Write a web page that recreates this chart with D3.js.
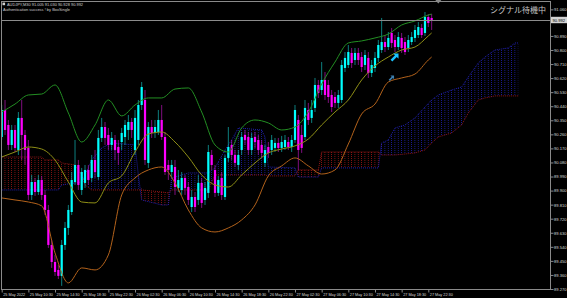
<!DOCTYPE html>
<html>
<head>
<meta charset="utf-8">
<script src="https://cdn.jsdelivr.net/npm/d3@7/dist/d3.min.js"></script>
<style>
  html, body { margin: 0; padding: 0; background: #000; }
  svg { display: block; }
</style>
</head>
<body>
<svg id="chart" width="567" height="298"></svg>
<script>
const symbol = "AUDJPY,M30";
const statusText = "Authentication success ! by BoxSingle";
const signalText = "シグナル待機中";

// OHLC, one entry per 30 minute bar
const barOpen = [
  90.243, 90.416, 90.320, 90.192, 90.288, 90.160, 90.365, 90.256, 90.173, 89.872,
  89.955, 89.891, 89.968, 89.872, 89.776, 89.552, 89.443, 89.392, 89.354, 89.552,
  89.661, 89.763, 89.955, 90.064, 89.904, 89.949, 90.032, 89.981, 90.096, 89.987,
  90.237, 90.307, 90.256, 90.192, 90.224, 90.179, 90.211, 90.243, 90.288, 90.339,
  90.160, 90.224, 90.448, 90.480, 90.077, 90.307, 90.269, 90.275, 90.352, 90.243,
  90.064, 90.019, 90.051, 89.917, 89.904, 89.981, 89.923, 89.795, 89.859, 89.840,
  89.949, 89.840, 89.885, 90.128, 90.032, 89.885, 89.981, 89.859, 90.109, 90.192,
  90.128, 90.064, 90.160, 90.256, 90.243, 90.160, 90.243, 90.224, 90.192, 90.077,
  90.179, 90.160, 90.173, 90.205, 90.173, 90.179, 90.211, 90.179, 90.224, 90.352,
  90.256, 90.243, 90.416, 90.365, 90.429, 90.576, 90.544, 90.608, 90.576, 90.512,
  90.499, 90.461, 90.480, 90.685, 90.704, 90.781, 90.736, 90.781, 90.755, 90.704,
  90.749, 90.653, 90.685, 90.749, 90.800, 90.851, 90.819, 90.909, 90.864, 90.819,
  90.877, 90.851, 90.813, 90.851, 90.877, 90.896, 90.941, 90.909, 91.011, 91.005
];
const barHigh = [
  90.448, 90.480, 90.352, 90.320, 90.320, 90.403, 90.480, 90.288, 90.224, 90.000,
  89.981, 90.000, 89.994, 89.904, 89.808, 89.584, 89.488, 89.424, 89.584, 89.699,
  89.808, 90.019, 90.224, 90.096, 90.045, 90.064, 90.064, 90.128, 90.160, 90.288,
  90.365, 90.339, 90.301, 90.275, 90.256, 90.224, 90.301, 90.352, 90.384, 90.365,
  90.416, 90.480, 90.595, 90.544, 90.339, 90.352, 90.352, 90.416, 90.448, 90.275,
  90.096, 90.096, 90.096, 90.032, 90.019, 90.000, 89.955, 89.904, 89.891, 90.000,
  89.981, 89.955, 90.192, 90.160, 90.064, 89.994, 90.019, 90.128, 90.307, 90.224,
  90.160, 90.160, 90.275, 90.288, 90.275, 90.269, 90.275, 90.256, 90.224, 90.192,
  90.211, 90.256, 90.237, 90.237, 90.250, 90.256, 90.243, 90.256, 90.448, 90.384,
  90.320, 90.480, 90.461, 90.480, 90.621, 90.608, 90.723, 90.659, 90.608, 90.544,
  90.531, 90.544, 90.736, 90.787, 90.832, 90.813, 90.813, 90.813, 90.787, 90.800,
  90.787, 90.736, 90.787, 90.864, 91.005, 90.896, 90.915, 90.941, 90.896, 90.915,
  90.909, 90.883, 90.896, 90.915, 90.960, 90.979, 90.966, 91.043, 91.030, 91.030
];
const barLow = [
  90.224, 90.256, 90.160, 90.160, 90.147, 90.128, 90.096, 90.064, 89.840, 89.840,
  89.866, 89.872, 89.840, 89.744, 89.533, 89.405, 89.354, 89.334, 89.290, 89.520,
  89.616, 89.744, 89.936, 89.904, 89.872, 89.917, 89.936, 89.955, 89.981, 89.968,
  90.211, 90.192, 90.160, 90.160, 90.096, 90.064, 90.160, 90.192, 90.224, 90.237,
  90.128, 90.192, 90.416, 90.064, 90.045, 90.237, 90.237, 90.256, 90.224, 90.000,
  89.968, 89.981, 89.872, 89.891, 89.872, 89.872, 89.808, 89.763, 89.763, 89.808,
  89.789, 89.808, 89.853, 90.032, 89.859, 89.866, 89.840, 89.840, 90.083, 90.096,
  90.051, 90.032, 90.128, 90.192, 90.128, 90.128, 90.173, 90.128, 90.109, 90.051,
  90.109, 90.128, 90.147, 90.147, 90.147, 90.160, 90.160, 90.147, 90.205, 90.032,
  90.141, 90.224, 90.320, 90.333, 90.403, 90.493, 90.512, 90.480, 90.461, 90.403,
  90.429, 90.429, 90.461, 90.659, 90.685, 90.685, 90.704, 90.704, 90.659, 90.672,
  90.621, 90.627, 90.659, 90.723, 90.781, 90.787, 90.800, 90.813, 90.787, 90.800,
  90.781, 90.768, 90.787, 90.832, 90.851, 90.877, 90.877, 90.890, 90.947, 90.928
];
const barClose = [
  90.416, 90.288, 90.192, 90.288, 90.173, 90.365, 90.256, 90.160, 89.872, 89.955,
  89.891, 89.968, 89.872, 89.776, 89.552, 89.443, 89.379, 89.354, 89.552, 89.661,
  89.776, 89.968, 90.064, 89.936, 90.019, 90.032, 89.968, 90.096, 90.019, 90.237,
  90.307, 90.237, 90.192, 90.237, 90.160, 90.141, 90.269, 90.320, 90.339, 90.288,
  90.365, 90.448, 90.563, 90.096, 90.307, 90.269, 90.307, 90.352, 90.243, 90.019,
  90.032, 90.064, 89.923, 89.968, 89.981, 89.917, 89.840, 89.859, 89.795, 89.949,
  89.821, 89.917, 90.147, 90.064, 89.885, 89.968, 89.872, 90.109, 90.179, 90.128,
  90.077, 90.128, 90.243, 90.224, 90.160, 90.237, 90.211, 90.160, 90.141, 90.160,
  90.141, 90.224, 90.205, 90.173, 90.211, 90.224, 90.179, 90.224, 90.416, 90.160,
  90.173, 90.429, 90.352, 90.416, 90.576, 90.525, 90.608, 90.512, 90.499, 90.435,
  90.461, 90.512, 90.704, 90.749, 90.787, 90.717, 90.781, 90.736, 90.691, 90.768,
  90.653, 90.704, 90.749, 90.832, 90.851, 90.819, 90.877, 90.845, 90.819, 90.883,
  90.813, 90.787, 90.864, 90.883, 90.928, 90.947, 90.896, 91.011, 90.973, 90.992
];

// band lines read every 4 bars
const bandBars = [0, 4, 8, 12, 16, 20, 24, 28, 32, 36, 40, 44, 48, 52, 56, 60, 64,
  68, 72, 76, 80, 84, 88, 92, 96, 100, 104, 108, 112, 116, 120, 124, 128, 129];
const upperBand = [90.403, 90.454, 90.512, 90.518, 90.576, 90.397, 90.211, 90.320, 90.480,
  90.378, 90.448, 90.493, 90.493, 90.550, 90.557, 90.403, 90.192, 90.147, 90.301, 90.352,
  90.333, 90.288, 90.307, 90.403, 90.582, 90.723, 90.845, 90.858, 90.877, 90.902, 90.960,
  90.986, 91.024, 91.030];
const middleBand = [90.115, 90.147, 90.179, 90.166, 90.096, 89.955, 89.827, 89.821, 89.949,
  89.994, 90.147, 90.262, 90.275, 90.211, 90.115, 90.000, 89.936, 89.923, 90.000, 90.077,
  90.141, 90.166, 90.186, 90.230, 90.320, 90.403, 90.480, 90.608, 90.698, 90.755, 90.800,
  90.819, 90.890, 90.909];
const lowerBand = [89.853, 89.840, 89.827, 89.802, 89.501, 89.309, 89.405, 89.392, 89.488,
  89.872, 89.981, 90.032, 90.051, 89.949, 89.776, 89.661, 89.635, 89.661, 89.712, 89.808,
  89.994, 90.058, 90.109, 90.058, 90.006, 90.032, 90.198, 90.390, 90.454, 90.595, 90.621,
  90.646, 90.736, 90.755];

// ichimoku cloud, shifted 26 bars ahead
const cloudBars = [0, 12, 13, 17, 18, 22, 24, 25, 27, 30, 33, 40, 41, 42, 48, 50, 51, 56,
  62, 64, 67, 69, 71, 78, 79, 80, 88, 89, 95, 96, 113, 114, 116, 118, 121, 124, 127, 129,
  131, 135, 138, 140, 143, 145, 148, 152, 154, 155];
const spanA = [89.904, 89.904, 89.904, 89.904, 89.936, 89.949, 89.955, 90.000, 90.096, 90.173,
  90.205, 90.192, 90.000, 89.840, 89.808, 89.808, 89.981, 90.013, 90.013, 90.045, 90.160,
  90.224, 90.301, 90.288, 90.243, 90.051, 90.045, 89.987, 89.987, 90.045, 90.045, 90.205,
  90.224, 90.301, 90.320, 90.365, 90.435, 90.480, 90.512, 90.544, 90.563, 90.627, 90.717,
  90.755, 90.800, 90.813, 90.845, 90.845];
const spanB = [90.115, 90.115, 90.096, 90.096, 90.077, 90.064, 90.000, 89.936, 89.904, 89.904,
  89.904, 89.904, 89.904, 89.904, 89.891, 89.885, 89.904, 89.904, 89.904, 90.000, 90.000,
  90.000, 90.000, 90.000, 90.000, 89.994, 89.994, 90.032, 90.032, 90.147, 90.147, 90.128,
  90.128, 90.128, 90.134, 90.141, 90.160, 90.205, 90.243, 90.269, 90.320, 90.397, 90.480,
  90.493, 90.506, 90.506, 90.506, 90.506];

const signals = [
  { bar: 118, price: 90.755, color: "#19c3ff", size: 1.25 },
  { bar: 117, price: 90.621, color: "#3d7fae", size: 0.85 },
];

const priceTicks = [89.270, 89.360, 89.450, 89.540, 89.630, 89.720, 89.810, 89.900, 89.990,
  90.080, 90.170, 90.260, 90.350, 90.440, 90.530, 90.620, 90.710, 90.800, 90.890, 91.060];

const timeBars = [0, 8, 16, 24, 32, 40, 48, 56, 64, 72, 80, 88, 96, 104, 112, 120, 128];
const timeLabels = ["25 May 2022", "25 May 10:30", "25 May 14:30", "25 May 18:30",
  "25 May 22:30", "26 May 02:30", "26 May 06:30", "26 May 10:30", "26 May 14:30",
  "26 May 18:30", "26 May 22:30", "27 May 02:30", "27 May 06:30", "27 May 10:30",
  "27 May 14:30", "27 May 18:30", "27 May 22:30"];

const plot = { left: 1, top: 1, right: 550, bottom: 289 };
const font = "'Liberation Sans', Arial, sans-serif";
const fmt = d3.format(".3f");

const svg = d3.select("#chart");
svg.append("rect").attr("width", 567).attr("height", 298).attr("fill", "#000");

const x = d3.scaleLinear().domain([0, 155]).range([1.7, 518.3]);
const y = d3.scaleLinear().domain([89.27, 91.12]).range([289, 0]);
const step = x(1) - x(0);

const defs = svg.append("defs");
defs.append("clipPath").attr("id", "plotClip")
  .append("rect")
  .attr("x", plot.left).attr("y", plot.top)
  .attr("width", plot.right - plot.left).attr("height", plot.bottom - plot.top);

function hatch(id, color) {
  const p = defs.append("pattern")
    .attr("id", id)
    .attr("patternUnits", "userSpaceOnUse")
    .attr("x", x(0) - 0.5).attr("y", 0)
    .attr("width", step).attr("height", 2);
  p.append("rect").attr("width", 0.8).attr("height", 0.9).attr("fill", color);
}
hatch("hatchBlue", "#2020b4");
hatch("hatchRed", "#a81818");

const g = svg.append("g").attr("clip-path", "url(#plotClip)");

// cloud
const cloud = cloudBars.map((bar, i) => ({ bar, a: spanA[i], b: spanB[i] }));

g.append("path")
  .datum(cloud)
  .attr("fill", "url(#hatchBlue)")
  .attr("d", d3.area()
    .x((d) => x(d.bar))
    .y0((d) => y(d.b))
    .y1((d) => y(Math.max(d.a, d.b))));

g.append("path")
  .datum(cloud)
  .attr("fill", "url(#hatchRed)")
  .attr("d", d3.area()
    .x((d) => x(d.bar))
    .y0((d) => y(d.a))
    .y1((d) => y(Math.max(d.a, d.b))));

g.append("path")
  .datum(cloud)
  .attr("fill", "none")
  .attr("stroke", "#2c2cf0")
  .attr("stroke-width", 0.7)
  .attr("stroke-dasharray", "1,1")
  .attr("d", d3.line().x((d) => x(d.bar)).y((d) => y(d.a)));

g.append("path")
  .datum(cloud)
  .attr("fill", "none")
  .attr("stroke", "#c82020")
  .attr("stroke-width", 0.7)
  .attr("stroke-dasharray", "1,1")
  .attr("d", d3.line().x((d) => x(d.bar)).y((d) => y(d.b)));

// bid line
const last = barClose[barClose.length - 1];
svg.append("line")
  .attr("x1", plot.left).attr("x2", plot.right)
  .attr("y1", Math.round(y(last)) + 0.5).attr("y2", Math.round(y(last)) + 0.5)
  .attr("stroke", "#8c8c8c").attr("stroke-width", 1);

// candles
const bars = barOpen.map((o, i) => ({
  i, o, h: barHigh[i], l: barLow[i], c: barClose[i], up: barClose[i] >= o,
}));

const candle = g.selectAll(".candle").data(bars).enter()
  .append("g").attr("class", "candle");

candle.append("line")
  .attr("x1", (d) => x(d.i)).attr("x2", (d) => x(d.i))
  .attr("y1", (d) => y(d.h)).attr("y2", (d) => y(d.l))
  .attr("stroke", (d) => (d.up ? "#12b4b4" : "#b414b4"))
  .attr("stroke-width", 0.7);

candle.append("rect")
  .attr("x", (d) => x(d.i) - 1.1)
  .attr("width", 2.2)
  .attr("y", (d) => y(Math.max(d.o, d.c)))
  .attr("height", (d) => Math.max(0.7, Math.abs(y(d.o) - y(d.c))))
  .attr("fill", (d) => (d.up ? "#00ffff" : "#ff00ff"));

// bands
const bandLine = (values) => d3.line()
  .curve(d3.curveMonotoneX)
  .x((d, i) => x(bandBars[i]))
  .y((d) => y(d))(values);

[
  { values: upperBand, color: "#238f23" },
  { values: middleBand, color: "#8f8f16" },
  { values: lowerBand, color: "#b3621b" },
].forEach((band) => {
  g.append("path")
    .attr("fill", "none")
    .attr("stroke", band.color)
    .attr("stroke-width", 1)
    .attr("d", bandLine(band.values));
});

// signal arrows
const arrowShape = "M0,-4 L3,-1 L1,-1 L1,4 L-1,4 L-1,-1 L-3,-1 Z";
g.selectAll(".signal").data(signals).enter()
  .append("path")
  .attr("class", "signal")
  .attr("d", arrowShape)
  .attr("fill", (d) => d.color)
  .attr("transform", (d) => `translate(${x(d.bar)},${y(d.price)}) rotate(45) scale(${d.size})`);

// frame
svg.append("rect")
  .attr("x", plot.left + 0.5).attr("y", plot.top + 0.5)
  .attr("width", plot.right - plot.left).attr("height", plot.bottom - plot.top)
  .attr("fill", "none").attr("stroke", "#8a8a8a").attr("stroke-width", 1);

// chart shift marker
svg.append("path")
  .attr("d", `M${x(131) - 3},0 L${x(131) + 3},0 L${x(131)},3.5 Z`)
  .attr("fill", "#8a8a8a");

// price axis
const yAxis = d3.axisRight(y)
  .tickValues(priceTicks)
  .tickSize(3)
  .tickSizeOuter(0)
  .tickPadding(0.5)
  .tickFormat(fmt);

const ya = svg.append("g")
  .attr("transform", `translate(${plot.right + 0.5},0)`)
  .call(yAxis);
ya.select(".domain").remove();
ya.selectAll("line").attr("stroke", "#8a8a8a");
ya.selectAll("text")
  .attr("fill", "#d8d8d8")
  .attr("font-family", font)
  .attr("font-size", 4.2)
  .attr("textLength", 12.5)
  .attr("lengthAdjust", "spacingAndGlyphs");

// bid label
const bidY = y(last);
svg.append("rect")
  .attr("x", plot.right + 1).attr("y", bidY - 3.2)
  .attr("width", 16).attr("height", 6.4)
  .attr("fill", "#d4d4d4");
svg.append("text")
  .attr("x", plot.right + 2.5).attr("y", bidY + 1.6)
  .attr("fill", "#000")
  .attr("font-family", font)
  .attr("font-size", 4.2)
  .attr("textLength", 12.5)
  .attr("lengthAdjust", "spacingAndGlyphs")
  .text(fmt(last));

// time axis
const xAxis = d3.axisBottom(x)
  .tickValues(timeBars)
  .tickSize(3)
  .tickSizeOuter(0)
  .tickPadding(1)
  .tickFormat((d, i) => timeLabels[i]);

const xa = svg.append("g")
  .attr("transform", `translate(0,${plot.bottom + 0.5})`)
  .call(xAxis);
xa.select(".domain").remove();
xa.selectAll("line").attr("stroke", "#8a8a8a");
xa.selectAll("text")
  .attr("fill", "#d8d8d8")
  .attr("font-family", font)
  .attr("font-size", 4.2)
  .attr("text-anchor", "start")
  .attr("dx", 1)
  .attr("textLength", (d, i) => (i === 0 ? 22 : 23))
  .attr("lengthAdjust", "spacingAndGlyphs");

// header
const lastBar = bars[bars.length - 1];
svg.append("rect")
  .attr("x", 2.5).attr("y", 2.6).attr("width", 2.6).attr("height", 2.6)
  .attr("fill", "#d0d0d0");
svg.append("text")
  .attr("x", 7).attr("y", 5.6)
  .attr("fill", "#d0d0d0")
  .attr("font-family", font)
  .attr("font-size", 4.2)
  .attr("textLength", 76)
  .attr("lengthAdjust", "spacingAndGlyphs")
  .text(`${symbol} ${fmt(lastBar.o)} ${fmt(lastBar.h)} ${fmt(lastBar.l)} ${fmt(lastBar.c)}`);
svg.append("text")
  .attr("x", 3).attr("y", 11)
  .attr("fill", "#d0d0d0")
  .attr("font-family", font)
  .attr("font-size", 4.2)
  .attr("textLength", 67)
  .attr("lengthAdjust", "spacingAndGlyphs")
  .text(statusText);

svg.append("text")
  .attr("x", 546).attr("y", 12.5)
  .attr("text-anchor", "end")
  .attr("fill", "#c4c4c4")
  .attr("font-family", "'Noto Sans CJK JP', sans-serif")
  .attr("font-size", 8)
  .text(signalText);
</script>
</body>
</html>
